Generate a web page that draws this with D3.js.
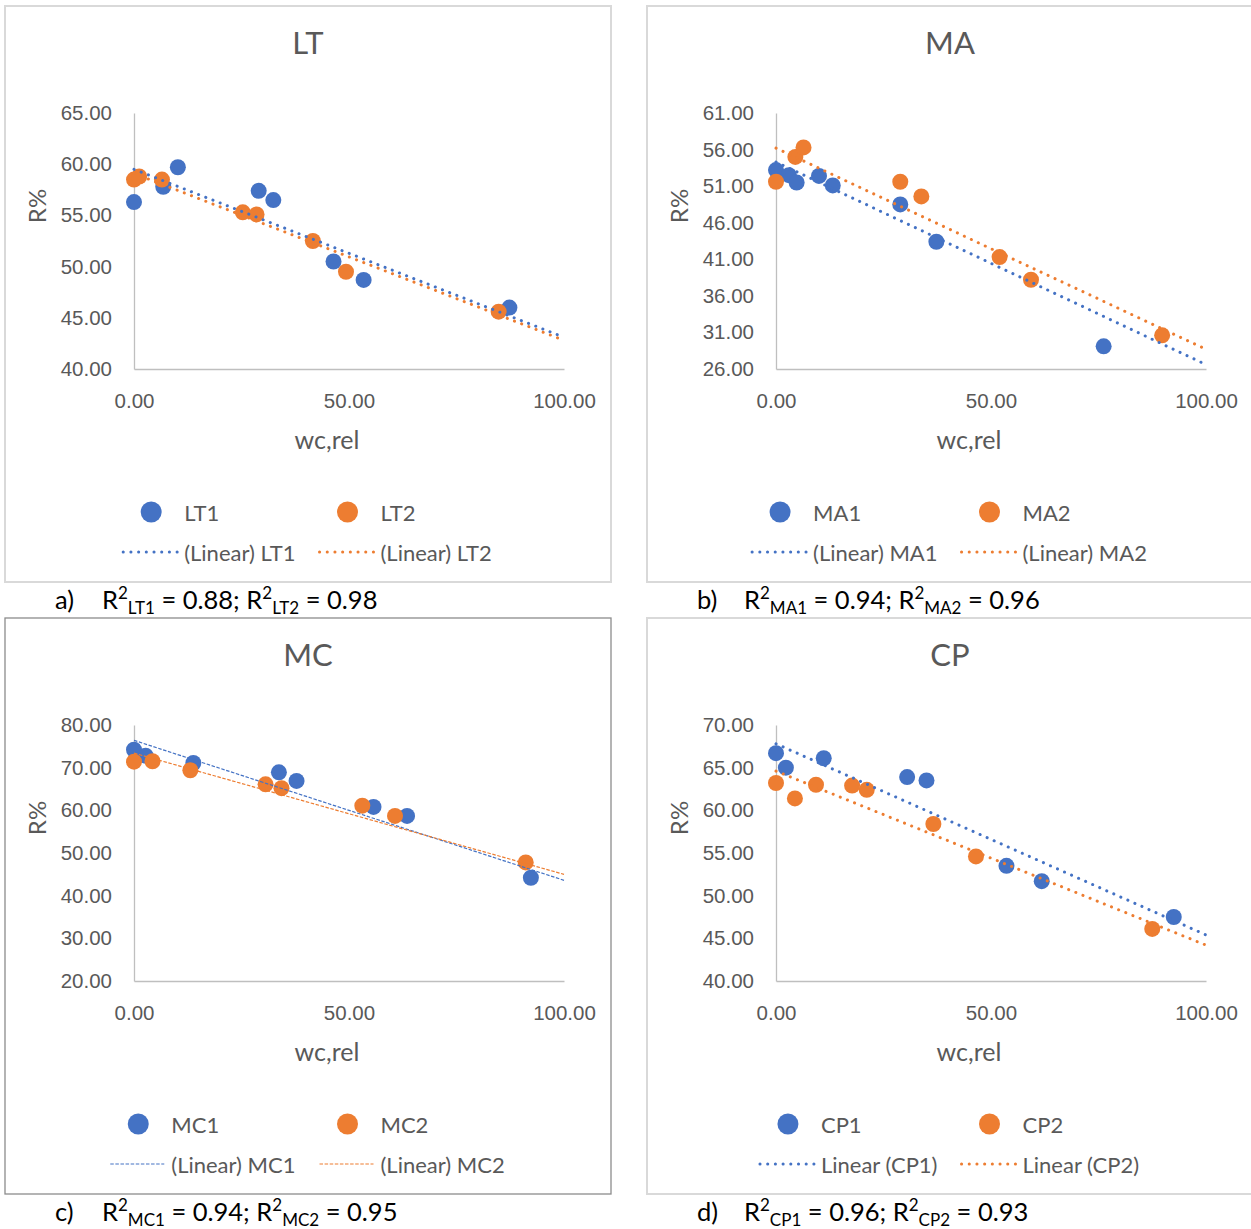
<!DOCTYPE html>
<html>
<head>
<meta charset="utf-8">
<script src="https://cdn.jsdelivr.net/npm/d3@7"></script>
<style>
  body { margin: 0; background: #fff; }
  svg { display: block; font-family: Lato, "Open Sans", sans-serif; }
</style>
</head>
<body>
<svg id="chart" width="1251" height="1229"></svg>
<script>
// ---- data ----
var panelNames = ['LT', 'MA', 'MC', 'CP']

var ltX1 = [0, 6.8, 10.2, 29.0, 32.4, 46.4, 53.4, 87.3]
var ltY1 = [56.3, 57.8, 59.7, 57.4, 56.5, 50.5, 48.7, 46.0]
var ltX2 = [0, 1.2, 6.5, 25.3, 28.5, 41.6, 49.3, 84.8]
var ltY2 = [58.5, 58.8, 58.5, 55.3, 55.1, 52.5, 49.5, 45.6]

var maX1 = [0, 3.0, 4.8, 10.0, 13.2, 28.9, 37.3, 76.2]
var maY1 = [53.2, 52.5, 51.5, 52.4, 51.1, 48.5, 43.4, 29.1]
var maX2 = [0, 4.5, 6.4, 28.9, 33.8, 52.0, 59.3, 89.8]
var maY2 = [51.6, 55.0, 56.3, 51.6, 49.6, 41.3, 38.2, 30.6]

var mcX1 = [0, 2.7, 13.8, 33.7, 37.8, 55.7, 63.5, 92.3]
var mcY1 = [74.2, 72.8, 71.1, 68.9, 66.9, 60.8, 58.7, 44.2]
var mcX2 = [0, 4.3, 13.1, 30.6, 34.3, 53.1, 60.7, 91.1]
var mcY2 = [71.4, 71.5, 69.4, 66.1, 65.2, 61.1, 58.7, 47.8]

var cpX1 = [0, 2.3, 11.1, 30.5, 35.0, 53.6, 61.8, 92.5]
var cpY1 = [66.7, 65.0, 66.1, 63.9, 63.5, 53.5, 51.7, 47.5]
var cpX2 = [0, 4.4, 9.3, 17.7, 21.1, 36.6, 46.5, 87.5]
var cpY2 = [63.2, 61.4, 63.0, 62.9, 62.4, 58.4, 54.6, 46.1]

// trend line values at wc,rel = 0 and 100
var ltTrend = [[59.5, 43.1], [59.1, 42.8]]
var maTrend = [[54.3, 26.6], [56.2, 28.7]]
var mcTrend = [[76.4, 43.6], [73.4, 45.0]]
var cpTrend = [[67.8, 45.4], [64.6, 44.2]]

var ltTicks = [40, 45, 50, 55, 60, 65]
var maTicks = [26, 31, 36, 41, 46, 51, 56, 61]
var mcTicks = [20, 30, 40, 50, 60, 70, 80]
var cpTicks = [40, 45, 50, 55, 60, 65, 70]
var xTicks = [0, 50, 100]

var ltLegend = ['LT1', 'LT2', '(Linear) LT1', '(Linear) LT2']
var maLegend = ['MA1', 'MA2', '(Linear) MA1', '(Linear) MA2']
var mcLegend = ['MC1', 'MC2', '(Linear) MC1', '(Linear) MC2']
var cpLegend = ['CP1', 'CP2', 'Linear (CP1)', 'Linear (CP2)']

var captionLetters = ['a)', 'b)', 'c)', 'd)']
var r2Values = [[0.88, 0.98], [0.94, 0.96], [0.94, 0.95], [0.96, 0.93]]

// ---- layout ----
var colors = ['#4472C4', '#ED7D31']
var textGray = '#595959'
var panelW = 606, panelH = 576
var panelPos = [[5, 6], [647, 6], [5, 618], [647, 618]]
var plot = { left: 129, right: 559, top: 107, bottom: 363 }

var panels = [
  { x: [ltX1, ltX2], y: [ltY1, ltY2], trend: ltTrend, ticks: ltTicks, legend: ltLegend, dashed: false },
  { x: [maX1, maX2], y: [maY1, maY2], trend: maTrend, ticks: maTicks, legend: maLegend, dashed: false },
  { x: [mcX1, mcX2], y: [mcY1, mcY2], trend: mcTrend, ticks: mcTicks, legend: mcLegend, dashed: true },
  { x: [cpX1, cpX2], y: [cpY1, cpY2], trend: cpTrend, ticks: cpTicks, legend: cpLegend, dashed: false }
]

var svg = d3.select('#chart')
var fmt = d3.format('.2f')

function trendStyle(sel, p, c) {
  sel.attr('stroke', c).attr('fill', 'none')
  if (p.dashed) {
    sel.attr('stroke-width', 1.2).attr('stroke-dasharray', '3.5,1.6')
  } else {
    sel.attr('stroke-width', 3).attr('stroke-linecap', 'round').attr('stroke-dasharray', '0.1,7.6')
  }
}

panels.forEach(function(p, i) {
  var g = svg.append('g')
    .attr('transform', `translate(${panelPos[i][0]},${panelPos[i][1]})`)

  // panel frame
  g.append('rect')
    .attr('x', 0).attr('y', 0)
    .attr('width', panelW).attr('height', panelH)
    .attr('fill', 'none')
    .attr('stroke', i == 2 ? '#8c8c8c' : '#d9d9d9')
    .attr('stroke-width', i == 2 ? 1.3 : 2)

  // title
  g.append('text')
    .attr('x', panelW / 2).attr('y', 48)
    .attr('text-anchor', 'middle')
    .style('font-size', '31px')
    .style('fill', textGray)
    .text(panelNames[i])

  var xScale = d3.scaleLinear().domain([0, 100]).range([plot.left, plot.right])
  var yScale = d3.scaleLinear()
    .domain([p.ticks[0], p.ticks[p.ticks.length - 1]])
    .range([plot.bottom, plot.top])

  // Y axis
  var yAxis = d3.axisLeft(yScale).tickValues(p.ticks).tickSize(0).tickPadding(22).tickFormat(fmt)
  var yg = g.append('g').attr('transform', `translate(${plot.left},0)`).call(yAxis)
  yg.select('.domain').attr('stroke', '#bfbfbf').attr('stroke-width', 1.3)
  yg.selectAll('text').style('font-size', '20.5px').style('fill', textGray).attr('font-family', null)

  // X axis
  var xAxis = d3.axisBottom(xScale).tickValues(xTicks).tickSize(0).tickPadding(24).tickFormat(fmt)
  var xg = g.append('g').attr('transform', `translate(0,${plot.bottom})`).call(xAxis)
  xg.select('.domain').attr('stroke', '#bfbfbf').attr('stroke-width', 1.3)
  xg.selectAll('text').style('font-size', '20.5px').style('fill', textGray).attr('font-family', null)

  // axis titles
  g.append('text')
    .attr('x', 322).attr('y', 443)
    .attr('text-anchor', 'middle')
    .style('font-size', '25px').style('fill', textGray)
    .text('wc,rel')
  g.append('text')
    .attr('transform', 'translate(31,200) rotate(-90)')
    .attr('text-anchor', 'middle')
    .attr('dominant-baseline', 'central')
    .style('font-size', '24px').style('fill', textGray)
    .text('R%')

  // points
  ;[0, 1].forEach(function(s) {
    var pts = p.x[s].map((v, k) => [v, p.y[s][k]])
    g.append('g').selectAll('circle')
      .data(pts)
      .join('circle')
      .attr('cx', d => xScale(d[0]))
      .attr('cy', d => yScale(d[1]))
      .attr('r', 8)
      .attr('fill', colors[s])
  })

  // trend lines
  var line = d3.line().x(d => xScale(d[0])).y(d => yScale(d[1]))
  ;[0, 1].forEach(function(s) {
    g.append('path')
      .datum([[0, p.trend[s][0]], [100, p.trend[s][1]]])
      .attr('d', line)
      .call(trendStyle, p, colors[s])
  })

  // legend
  var lg = g.append('g').style('font-size', '22px').style('fill', textGray)
  var tmp = lg.append('g')
  var widths = p.legend.map(function(t) {
    var n = tmp.append('text').text(t)
    return n.node().getComputedTextLength()
  })
  tmp.remove()
  var maxW = d3.max(widths)
  var gap = 23
  var colW = 62 + maxW + gap
  var x0 = panelW / 2 - (colW * 2 - gap) / 2
  ;[0, 1].forEach(function(s) {
    var cx = x0 + s * colW
    lg.append('circle').attr('cx', cx + 28).attr('cy', 506).attr('r', 10.5).attr('fill', colors[s])
    lg.append('text').attr('x', cx + 61).attr('y', 506).attr('dominant-baseline', 'central').text(p.legend[s])
    lg.append('path')
      .attr('d', `M${cx},546H${cx + 54}`)
      .call(trendStyle, p, colors[s])
    lg.append('text').attr('x', cx + 61).attr('y', 546).attr('dominant-baseline', 'central').text(p.legend[s + 2])
  })

  // caption below the panel
  var baseY = panelPos[i][1] + panelH + 27
  svg.append('text')
    .attr('x', panelPos[i][0] + 50).attr('y', baseY)
    .style('font-size', '25.5px').style('fill', '#000')
    .text(captionLetters[i])
  var body = svg.append('text')
    .attr('x', panelPos[i][0] + 97).attr('y', baseY)
    .style('font-size', '25.5px').style('fill', '#000')
  ;[0, 1].forEach(function(s) {
    body.append('tspan').text('R')
    body.append('tspan').attr('dy', -10).style('font-size', '17px').text('2')
    body.append('tspan').attr('dy', 15).style('font-size', '17px').text(panelNames[i] + (s + 1))
    body.append('tspan').attr('dy', -5).text(' = ' + r2Values[i][s].toFixed(2) + (s == 0 ? '; ' : ''))
  })
})
</script>
</body>
</html>
